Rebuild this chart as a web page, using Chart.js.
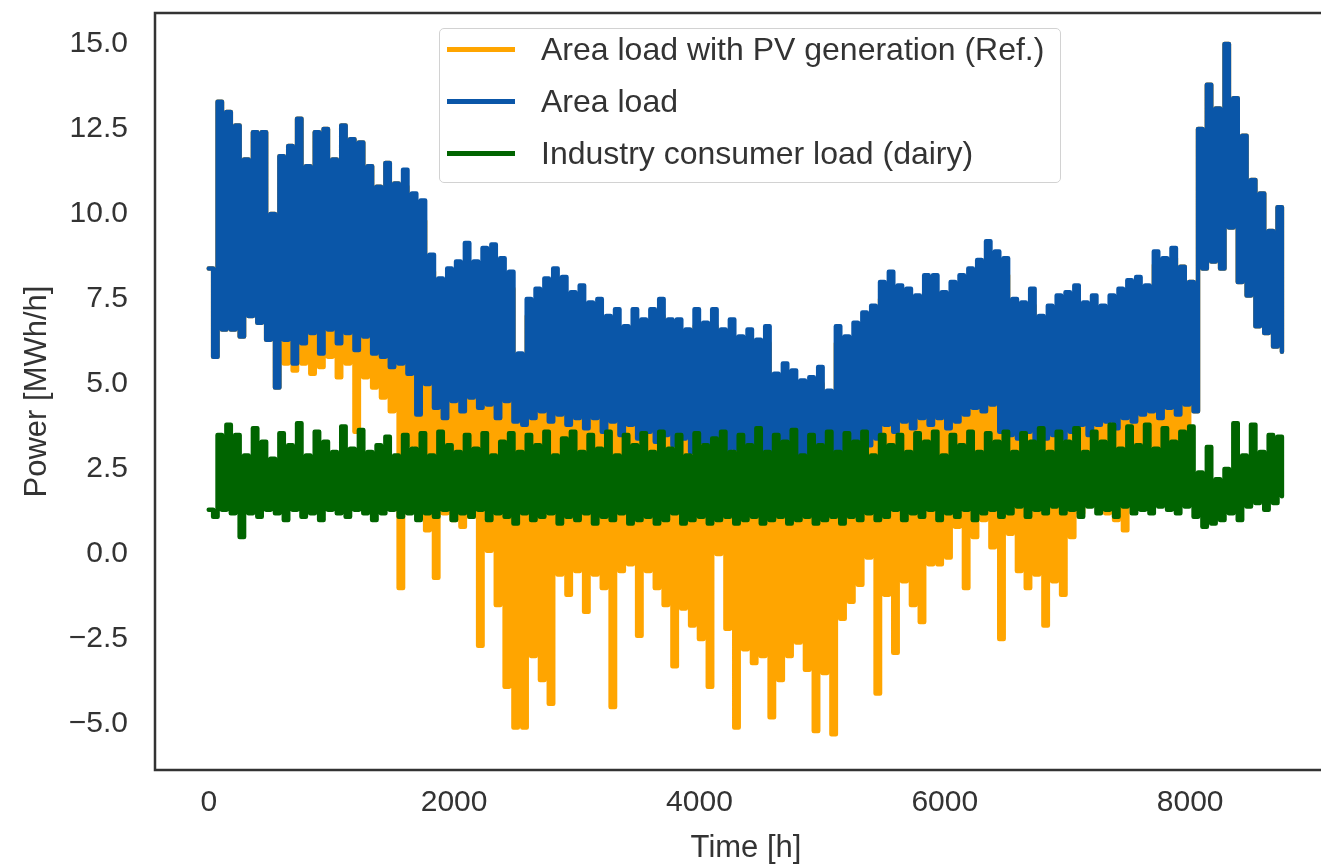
<!DOCTYPE html>
<html>
<head>
<meta charset="utf-8">
<title>Area load and PV generation</title>
<script src="https://cdn.jsdelivr.net/npm/chart.js@4.4.1/dist/chart.umd.min.js"></script>
<style>
  html, body { margin: 0; padding: 0; background: #fff; overflow: hidden; }
  #wrap { position: relative; width: 1321px; height: 867px; overflow: hidden; }
  #chart { position: absolute; left: 0; top: 0; }
  #legend {
    position: absolute; left: 439px; top: 28px; width: 622px; height: 155px;
    box-sizing: border-box; border: 1.5px solid #d2d2d2; border-radius: 5px;
    background: rgba(255, 255, 255, 0.8);
    font-family: 'Liberation Sans', Arial, sans-serif; font-size: 32px; color: #333;
  }
  #legend .row { position: absolute; left: 0; right: 0; height: 36px; line-height: 36px; white-space: nowrap; }
  #legend .swatch { position: absolute; left: 7px; top: 16px; width: 68px; height: 4.5px; }
  #legend .label { position: absolute; left: 101px; top: 0; }
</style>
</head>
<body>
<div id="wrap">
  <canvas id="chart" width="1360" height="867"></canvas>
  <div id="legend"></div>
</div>
<script>
// hours between stored samples; samples alternate daytime peak / night trough
const sampleStep = 36

const xTicks = [0, 2000, 4000, 6000, 8000]
const yTicks = [-5, -2.5, 0, 2.5, 5, 7.5, 10, 12.5, 15]

const seriesNames = ['Area load with PV generation (Ref.)', 'Area load', 'Industry consumer load (dairy)']
const seriesColors = ['#ffa500', '#0a56a8', '#006400']

// Area load [MWh/h]
const areaHigh = [
  8.4, 13.3, 13.0, 12.6, 11.6, 12.4, 12.4, 10.0, 11.7, 12.0,
  12.8, 11.4, 12.4, 12.5, 11.6, 12.6, 12.2, 12.1, 11.4, 10.8,
  11.5, 10.9, 11.3, 10.6, 10.4, 8.8, 8.1, 8.4, 8.6, 9.15,
  8.6, 9.0, 9.1, 8.7, 8.3, 5.9, 7.5, 7.8, 8.1, 8.4,
  8.15, 7.7, 7.9, 7.4, 7.5, 7.0, 7.2, 6.7, 7.2, 6.9,
  7.2, 7.5, 6.9, 6.9, 6.6, 7.2, 6.8, 7.2, 6.6, 6.9,
  6.4, 6.6, 6.3, 6.7, 5.3, 5.6, 5.4, 5.1, 5.2, 5.5,
  4.8, 6.7, 6.4, 6.8, 7.1, 7.3, 8.0, 8.3, 7.9, 7.8,
  7.6, 8.2, 8.2, 7.7, 8.0, 8.2, 8.4, 8.65, 9.2, 8.9,
  8.7, 7.5, 7.4, 7.8, 7.0, 7.3, 7.6, 7.7, 7.9, 7.4,
  7.6, 7.3, 7.6, 7.8, 8.05, 8.15, 7.9, 8.9, 8.7, 9.0,
  8.45, 8.0, 12.5, 13.8, 13.1, 15.0, 13.4, 12.3, 11.0, 10.6,
  9.5, 10.2
]
const areaLow = [
  5.8, 6.6, 6.6, 6.4, 7.0, 6.8, 6.3, 4.9, 6.3, 5.6,
  6.2, 6.5, 5.9, 6.6, 6.2, 6.5, 6.0, 6.4, 5.9, 5.8,
  5.5, 5.6, 5.3, 4.1, 5.0, 4.3, 4.0, 4.5, 4.2, 4.6,
  4.3, 4.4, 4.0, 4.5, 3.9, 3.8, 4.0, 4.2, 3.9, 4.1,
  3.8, 4.0, 3.7, 4.0, 3.6, 3.9, 3.5, 3.8, 3.4, 3.6,
  3.3, 3.5, 3.2, 3.4, 3.0, 3.3, 3.0, 3.2, 2.9, 3.1,
  2.8, 3.0, 2.7, 2.9, 2.6, 2.8, 2.5, 2.7, 2.6, 2.8,
  2.5, 3.0, 2.8, 3.1, 3.2, 3.4, 3.8, 3.6, 3.9, 3.7,
  4.0, 3.8, 4.0, 3.7, 3.9, 4.1, 4.3, 4.2, 4.4, 3.6,
  3.5, 3.4, 3.6, 3.3, 3.4, 3.5, 3.4, 3.6, 3.8, 3.5,
  3.8, 3.9, 3.7, 4.0, 3.9, 4.1, 4.2, 4.0, 4.3, 4.1,
  4.4, 4.2, 8.4, 8.6, 8.4, 9.6, 8.0, 7.6, 6.7, 6.5,
  6.1, 5.95
]

// Area load minus PV generation [MWh/h]
const refHigh = [
  8.4, 13.3, 13.0, 12.6, 11.6, 12.4, 12.4, 10.0, 11.7, 12.0,
  12.8, 11.4, 12.4, 12.5, 11.6, 12.6, 12.2, 12.1, 11.4, 10.8,
  11.5, 10.9, 10.8, 10.1, 9.8, 8.3, 7.6, 7.9, 8.1, 8.6,
  8.1, 8.5, 8.6, 8.2, 7.8, 5.4, 7.0, 7.3, 7.6, 7.9,
  7.6, 7.2, 7.4, 6.9, 7.0, 6.5, 6.7, 6.2, 6.7, 6.4,
  6.7, 7.0, 6.4, 6.4, 6.1, 6.7, 6.3, 6.7, 6.1, 6.4,
  5.9, 6.1, 5.8, 6.2, 4.8, 5.1, 4.9, 4.6, 4.7, 5.0,
  4.3, 6.2, 5.9, 6.3, 6.6, 6.8, 7.5, 7.8, 7.4, 7.3,
  7.1, 7.7, 7.7, 7.2, 7.5, 7.7, 7.9, 8.2, 8.7, 8.4,
  8.2, 7.0, 6.9, 7.3, 6.5, 6.8, 7.1, 7.2, 7.4, 6.9,
  7.1, 6.8, 7.1, 7.3, 7.6, 7.7, 7.5, 8.5, 8.3, 8.7,
  8.45, 8.0, 12.5, 13.8, 13.1, 15.0, 13.4, 12.3, 11.0, 10.6,
  9.5, 10.2
]
const refLow = [
  5.8, 6.6, 6.6, 6.4, 7.0, 6.8, 6.3, 4.9, 5.6, 5.4,
  5.6, 5.3, 5.5, 5.8, 5.2, 5.6, 3.6, 5.2, 4.9, 4.6,
  4.2, -1.0, 3.2, 1.5, 0.7, -0.7, 1.2, 1.0, 0.8, 1.1,
  -2.7, 0.1, -1.5, -3.9, -5.1, -5.1, -3.0, -3.7, -4.4, -0.6,
  -1.2, -0.5, -1.7, -0.6, -1.0, -4.5, -0.5, -0.3, -2.4, -0.5,
  -1.0, -1.5, -3.3, -1.6, -2.1, -2.5, -3.9, 0.0, -2.2, -5.1,
  -2.8, -3.2, -3.0, -4.8, -3.7, -3.0, -2.6, -3.4, -5.2, -3.5,
  -5.3, -1.9, -1.4, -0.9, -0.1, -4.1, -1.2, -2.9, -0.8, -1.5,
  -2.0, -0.3, -0.3, -0.1, 0.8, -1.0, 0.5, 1.0, 0.2, -2.5,
  0.6, -0.5, -1.0, -0.6, -2.1, -0.8, -1.2, 0.5, 1.2, 1.5,
  1.4, 1.2, 1.0, 0.7, 1.4, 1.6, 1.8, 2.0, 2.5, 2.8,
  3.6, 4.2, 8.4, 8.6, 8.4, 9.6, 8.0, 7.6, 6.7, 6.5,
  6.1, 5.95
]

// Dairy consumer load [MWh/h]
const dairyHigh = [
  1.3, 3.5, 3.8, 3.5, 2.9, 3.7, 3.3, 2.8, 3.55, 3.2,
  3.85, 2.9, 3.6, 3.3, 3.0, 3.75, 3.1, 3.65, 3.0, 3.2,
  3.45, 2.9, 3.5, 3.1, 3.55, 2.9, 3.6, 3.2, 3.0, 3.5,
  3.1, 3.55, 2.9, 3.3, 3.55, 3.0, 3.5, 3.2, 3.6, 2.9,
  3.4, 3.6, 3.0, 3.5, 3.1, 3.6, 2.9, 3.5, 3.2, 3.55,
  3.0, 3.6, 3.1, 3.5, 2.9, 3.55, 3.2, 3.4, 3.6, 3.0,
  3.5, 3.2, 3.7, 3.0, 3.5, 3.3, 3.65, 2.9, 3.5, 3.2,
  3.6, 3.0, 3.55, 3.3, 3.6, 2.9, 3.5, 3.2, 3.5, 3.0,
  3.55, 3.3, 3.6, 2.9, 3.5, 3.2, 3.6, 3.0, 3.55, 3.3,
  3.6, 3.0, 3.55, 3.3, 3.7, 3.0, 3.6, 3.3, 3.7, 3.0,
  3.6, 3.3, 3.8, 3.1, 3.75, 3.2, 3.8, 3.1, 3.7, 3.3,
  3.6, 3.75, 2.4, 3.15, 2.2, 2.5, 3.85, 2.9, 3.8, 3.0,
  3.5, 3.45
]
const dairyLow = [
  1.1, 1.3, 1.2, 0.5, 1.2, 1.1, 1.3, 1.2, 1.0, 1.3,
  1.1, 1.2, 1.0, 1.3, 1.2, 1.1, 1.3, 1.2, 1.0, 1.2,
  1.3, 1.1, 1.2, 1.0, 1.2, 1.1, 1.3, 1.0, 1.2, 1.1,
  1.3, 1.0, 1.2, 1.1, 0.9, 1.2, 1.0, 1.1, 1.2, 0.9,
  1.1, 1.0, 1.2, 0.9, 1.1, 1.0, 1.2, 0.9, 1.0, 1.1,
  0.9, 1.0, 1.2, 0.9, 1.0, 1.1, 0.9, 1.0, 1.1, 0.9,
  1.0, 1.1, 0.9, 1.0, 1.1, 0.9, 1.0, 1.1, 0.9, 1.0,
  1.1, 0.9, 1.1, 1.0, 1.2, 1.0, 1.1, 1.3, 1.0, 1.2,
  1.1, 1.3, 1.0, 1.2, 1.1, 1.3, 1.0, 1.2, 1.3, 1.1,
  1.2, 1.4, 1.1, 1.3, 1.2, 1.4, 1.2, 1.3, 1.1, 1.4,
  1.2, 1.3, 1.1, 1.4, 1.2, 1.3, 1.2, 1.4, 1.3, 1.2,
  1.4, 1.1, 0.8, 0.9, 1.0, 1.2, 1.0, 1.4, 1.5, 1.3,
  1.5, 1.7
]

// merge peak and trough samples back into one time series
function toSeries(high, low) {
    const pts = []
    for (let k = 0; k < high.length; k++) {
        pts.push({x: 2 * k * sampleStep, y: high[k]})
        if (k < low.length) pts.push({x: (2 * k + 1) * sampleStep, y: low[k]})
    }
    return pts
}

const textColor = '#333'
const tickFont = {family: "'Liberation Sans', Arial, sans-serif", size: 30}
const titleFont = {family: "'Liberation Sans', Arial, sans-serif", size: 31}

// axes frame: left, bottom and top spines
const frame = {
    id: 'frame',
    afterDatasetsDraw(chart) {
        const {ctx, chartArea: a} = chart
        ctx.save()
        ctx.strokeStyle = '#333'
        ctx.lineWidth = 2.5
        ctx.strokeRect(a.left, a.top, a.right - a.left, a.bottom - a.top)
        ctx.restore()
    }
}

const chart = new Chart(document.getElementById('chart'), {
    type: 'line',
    data: {
        datasets: [
            {label: seriesNames[0], data: toSeries(refHigh, refLow), borderColor: seriesColors[0], order: 3},
            {label: seriesNames[1], data: toSeries(areaHigh, areaLow), borderColor: seriesColors[1], order: 2},
            {label: seriesNames[2], data: toSeries(dairyHigh, dairyLow), borderColor: seriesColors[2], order: 1},
        ]
    },
    options: {
        responsive: false,
        animation: false,
        devicePixelRatio: 1,
        layout: {padding: {top: 13, right: 23, left: 0, bottom: 0}},
        elements: {
            point: {radius: 0},
            // hourly values held until the next sample
            line: {stepped: true, borderWidth: 4.5, borderJoinStyle: 'round', borderCapStyle: 'round', fill: false}
        },
        plugins: {
            legend: {display: false},
            tooltip: {enabled: false}
        },
        scales: {
            x: {
                type: 'linear',
                min: -438,
                max: 9197,
                afterBuildTicks: s => { s.ticks = xTicks.map(v => ({value: v})) },
                afterFit: s => { s.height = 97; s.paddingLeft = 0; s.paddingRight = 0 },
                grid: {display: false, drawTicks: false},
                border: {display: false},
                ticks: {padding: 15, font: tickFont, color: textColor, maxRotation: 0, autoSkip: false, callback: v => String(v)},
                title: {display: true, text: 'Time [h]', font: titleFont, color: textColor, padding: 0}
            },
            y: {
                min: -6.35,
                max: 15.91,
                afterBuildTicks: s => { s.ticks = yTicks.map(v => ({value: v})) },
                afterFit: s => { s.width = 155; s.paddingTop = 0; s.paddingBottom = 0 },
                grid: {display: false, drawTicks: false},
                border: {display: false},
                ticks: {
                    padding: 27, font: tickFont, color: textColor, autoSkip: false,
                    callback: v => v.toFixed(1).replace('-', '\u2212')
                },
                title: {display: true, text: 'Power [MWh/h]', font: titleFont, color: textColor, padding: {top: 19, bottom: 0}}
            }
        }
    },
    plugins: [frame]
})

// html legend in the upper middle of the axes
const legendEl = document.getElementById('legend')
chart.data.datasets.forEach((ds, i) => {
    const row = document.createElement('div')
    row.className = 'row'
    row.style.top = (2 + i * 52) + 'px'
    const sw = document.createElement('span')
    sw.className = 'swatch'
    sw.style.background = ds.borderColor
    const lab = document.createElement('span')
    lab.className = 'label'
    lab.textContent = ds.label
    row.appendChild(sw)
    row.appendChild(lab)
    legendEl.appendChild(row)
})
</script>
</body>
</html>
